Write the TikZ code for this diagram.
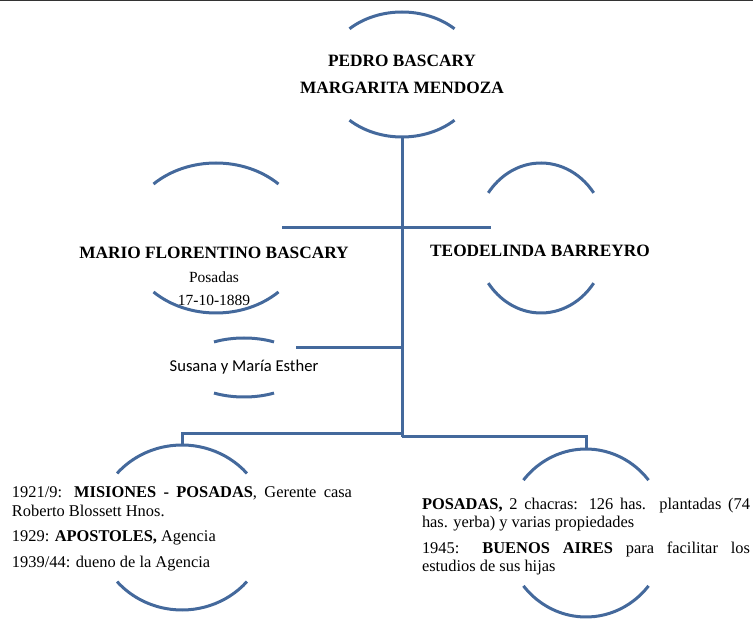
\documentclass[tikz,border=0pt]{standalone}
\usepackage{fontspec}
\setmainfont{Liberation Serif}
\newfontfamily\hijasfont{Carlito}
\usepackage{tikz}

\definecolor{lineblue}{HTML}{44699C}
\definecolor{edgegray}{HTML}{333333}

\tikzset{
  arcline/.style={draw=lineblue, line width=3pt},
  link/.style={draw=lineblue, line width=3pt},
  title/.style={font=\fontsize{17.3}{27}\selectfont\bfseries, align=center, inner sep=0pt},
  story/.style={font=\fontsize{16.4}{18.5}\selectfont, align=justify, inner sep=0pt}
}

% two blue arcs round a name: name, centre, x radius, y radius, angle
\newcommand{\namearcs}[5]{%
  \draw[arcline] (#2) ++(#5:#3pt and #4pt) arc[start angle=#5, end angle=180-#5, x radius=#3pt, y radius=#4pt];
  \draw[arcline] (#2) ++(-#5:#3pt and #4pt) arc[start angle=-#5, end angle=-180+#5, x radius=#3pt, y radius=#4pt];
  \path (#2) ++(0,#4) coordinate (#1-top) (#2) ++(0,-#4) coordinate (#1-bot);
}

\begin{document}
\begin{tikzpicture}[x=1pt, y=1pt]
        \useasboundingbox (0,0) rectangle (753,619);
        \draw[edgegray, line width=1.5pt] (0,618.3) -- (753,618.3);

        % Padres
        \namearcs{pedro}{402,544.5}{77}{62.5}{47}
        \node[title] (pedro) at (402,545) {PEDRO BASCARY\\MARGARITA MENDOZA};

        % Matrimonio
        \namearcs{mario}{216,381}{90}{75}{46}
        \node[title, font=\fontsize{17.3}{23.5}\selectfont\bfseries] (mario) at (214,342.5)
            {MARIO FLORENTINO BASCARY\\{\mdseries\fontsize{15.5}{23.5}\selectfont Posadas}\\{\mdseries\fontsize{15.5}{23.5}\selectfont 17-10-1889}};
        \namearcs{teo}{541,381}{66}{75}{37}
        \node[title] (teo) at (540,368) {TEODELINDA BARREYRO};

        % Hijas
        \namearcs{hijas}{244,251.5}{60}{29.5}{60}
        \node[font=\hijasfont\fontsize{16.6}{19}\selectfont, inner sep=0pt] (hijas) at (244,252) {Susana y María Esther};

        % Trabajo
        \namearcs{carrera}{182,91.5}{86}{82.5}{41}
        \node[story, text width=340pt] (carrera) at (182,90)
            {1921/9: \textbf{MISIONES - POSADAS}, Gerente casa\linebreak Roberto Blossett Hnos.\\[7pt]
             1929: \textbf{APOSTOLES,} Agencia\\[7pt]
             1939/44: dueno de la Agencia};
        \namearcs{posadas}{586,86}{80.5}{84}{39}
        \node[story, text width=328pt] (posadas) at (586,82.5)
            {\textbf{POSADAS,} 2 chacras: 126 has. plantadas (74\linebreak has. yerba) y varias propiedades\\[7pt]
             1945: \textbf{BUENOS AIRES} para facilitar los\linebreak estudios de sus hijas};

        % Lineas
        \coordinate (wedL) at (282,391);
        \coordinate (wedR) at (491,391);
        \coordinate (hijas-link) at (296,271);
        \coordinate (split) at (402,182);
        \coordinate (splitL) at (402,185);
        \draw[link] (pedro-bot) -- (split);
        \draw[link] (wedL) -- (wedR);
        \draw[link] (hijas-link) -- (hijas-link -| split);
        \draw[link] (splitL) -| (carrera-top);
        \draw[link] (split) -| (posadas-top);
    \end{tikzpicture}
\end{document}
